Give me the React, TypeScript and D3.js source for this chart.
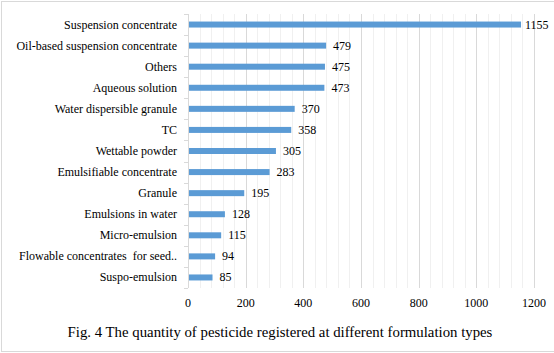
import React from "react";
import * as d3 from "d3";

const categories = [
  "Suspension concentrate",
  "Oil-based suspension concentrate",
  "Others",
  "Aqueous solution",
  "Water dispersible granule",
  "TC",
  "Wettable powder",
  "Emulsifiable concentrate",
  "Granule",
  "Emulsions in water",
  "Micro-emulsion",
  "Flowable concentrates  for seed..",
  "Suspo-emulsion",
];
const values = [1155, 479, 475, 473, 370, 358, 305, 283, 195, 128, 115, 94, 85];
const xTicks = [0, 200, 400, 600, 800, 1000, 1200];
const title = "Fig. 4 The quantity of pesticide registered at different formulation types";

const W = 554;
const H = 353;
const left = 188;
const right = 534;
const top = 14;
const bottom = 288;
const FONT = "Liberation Serif";

export default function App() {
  const x = d3.scaleLinear().domain([0, 1200]).range([left, right]);
  const y = d3.scaleBand<string>().domain(categories).range([top, bottom]).paddingInner(0).paddingOuter(0);
  const barH = 6;
  const minorTicks = d3.range(0, 1201, 40).filter((v) => v % 200 !== 0);
  const bandEdges = d3.range(0, categories.length + 1).map((i) => top + i * y.bandwidth());

  return (
    <div style={{ position: "fixed", left: 0, top: 0 }}>
      <svg width={W} height={H} style={{ display: "block" }}>
        <rect x={0} y={0} width={W} height={H} fill="#ffffff" />
        <rect x={1.5} y={1.5} width={W + 2} height={H - 3} fill="none" stroke="#d9d9d9" strokeWidth={1} />
        {minorTicks.map((t) => (
          <line key={"m" + t} x1={Math.round(x(t)) + 0.5} x2={Math.round(x(t)) + 0.5} y1={top} y2={bottom} stroke="#f0f0f0" />
        ))}
        {xTicks.slice(1).map((t) => (
          <line key={"g" + t} x1={Math.round(x(t)) + 0.5} x2={Math.round(x(t)) + 0.5} y1={top} y2={bottom} stroke="#d9d9d9" />
        ))}
        <line x1={left + 0.5} x2={left + 0.5} y1={top} y2={bottom} stroke="#d9d9d9" />
        {bandEdges.map((e, i) => (
          <line key={"t" + i} x1={left - 4} x2={left} y1={Math.round(e) + 0.5} y2={Math.round(e) + 0.5} stroke="#d9d9d9" />
        ))}
        {categories.map((c, i) => {
          const cy = (y(c) as number) + y.bandwidth() / 2;
          return (
            <g key={c}>
              <rect x={x(0) + 1} y={cy - barH / 2} width={x(values[i]) - x(0) - 1} height={barH} fill="#5b9bd5" />
              <text x={177} y={cy + 4} textAnchor="end" fontSize={12} fontFamily={FONT} fill="#000" xmlSpace="preserve">
                {c}
              </text>
              <text x={Math.min(x(values[i]) + 7, W - 29)} y={cy + 4} textAnchor="start" fontSize={12} fontFamily={FONT} fill="#000">
                {values[i]}
              </text>
            </g>
          );
        })}
        {xTicks.map((t) => (
          <text key={"x" + t} x={x(t)} y={307} textAnchor="middle" fontSize={12} fontFamily={FONT} fill="#000">
            {t}
          </text>
        ))}
        <text x={280} y={337} textAnchor="middle" fontSize={14.8} fontFamily={FONT} fill="#000">
          {title}
        </text>
      </svg>
    </div>
  );
}
